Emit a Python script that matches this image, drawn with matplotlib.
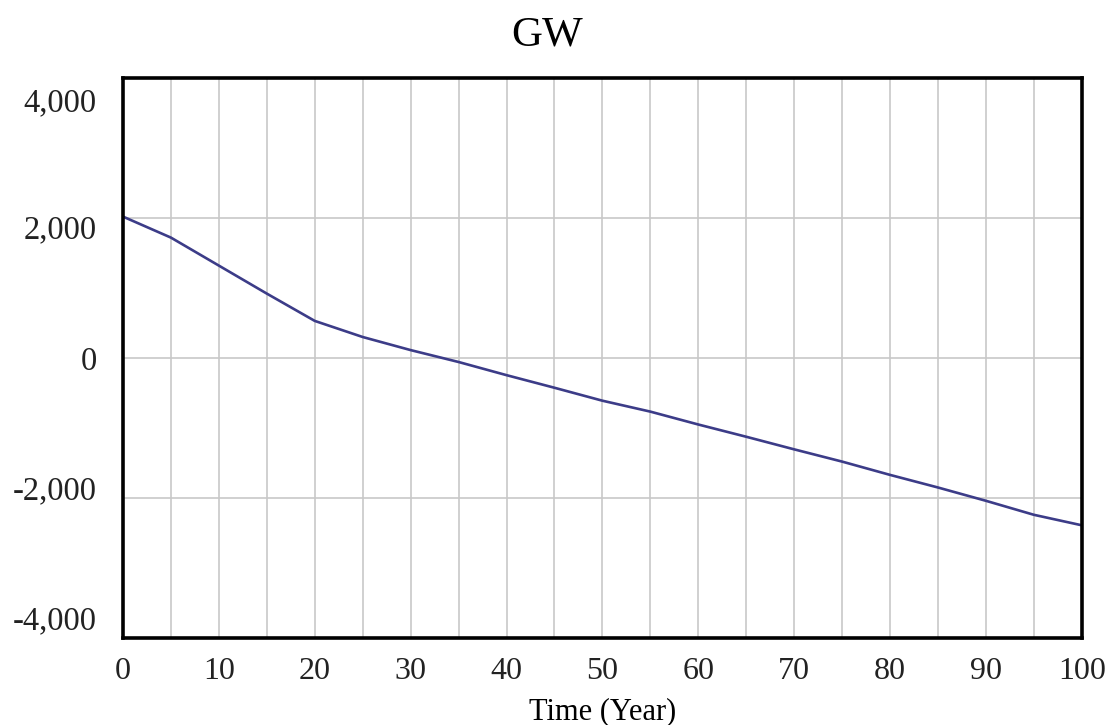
import matplotlib.pyplot as plt
import matplotlib.transforms as mtransforms
from matplotlib.ticker import MultipleLocator, FuncFormatter

# values (every 5 years)
years = [0, 5, 10, 15, 20, 25, 30, 35, 40, 45, 50,
         55, 60, 65, 70, 75, 80, 85, 90, 95, 100]
gw = [2020, 1720, 1320, 920, 530, 300, 113, -57, -245, -425, -610,
      -766, -950, -1125, -1305, -1480, -1670, -1850, -2040, -2240, -2390]

y_ticks = [4000, 2000, 0, -2000, -4000]
# labels in the original sit a little squeezed toward the middle (pixels)
y_label_shift = [-22, -9, 0, 10, 20]

plt.rcParams['font.family'] = ['Liberation Serif', 'DejaVu Serif']

fig = plt.figure(figsize=(11.13, 7.25), dpi=100)
ax = fig.add_axes([0.1105, 0.12, 0.8615, 0.7724])

ax.plot(years, gw, color='#3c3c88', linewidth=1.9)

ax.set_xlim(0, 100)
ax.set_ylim(-4000, 4000)
ax.xaxis.set_major_locator(MultipleLocator(10))
ax.xaxis.set_minor_locator(MultipleLocator(5))
ax.set_yticks(y_ticks)
ax.yaxis.set_major_formatter(FuncFormatter(lambda v, p: f"{int(v):,}"))

ax.grid(True, which='both', axis='x', color='#c8c8c8', linewidth=1.2)
ax.grid(True, which='major', axis='y', color='#c8c8c8', linewidth=1.2)
ax.tick_params(axis='both', which='both', length=0, colors='#222222')
ax.tick_params(axis='x', pad=14, labelsize=23)
ax.tick_params(axis='y', pad=19, labelsize=23.5)

fig.canvas.draw()
for lab, dy in zip(ax.get_yticklabels(), y_label_shift):
    lab.set_transform(lab.get_transform() +
                      mtransforms.ScaledTranslation(0, dy / 100, fig.dpi_scale_trans))

for s in ax.spines.values():
    s.set_linewidth(2.6)
    s.set_color('black')

ax.set_xlabel('Time (Year)', fontsize=22, labelpad=8)
fig.text(0.492, 0.952, 'GW', fontsize=31, ha='center', va='center')

fig.savefig('out.png', dpi=100)
